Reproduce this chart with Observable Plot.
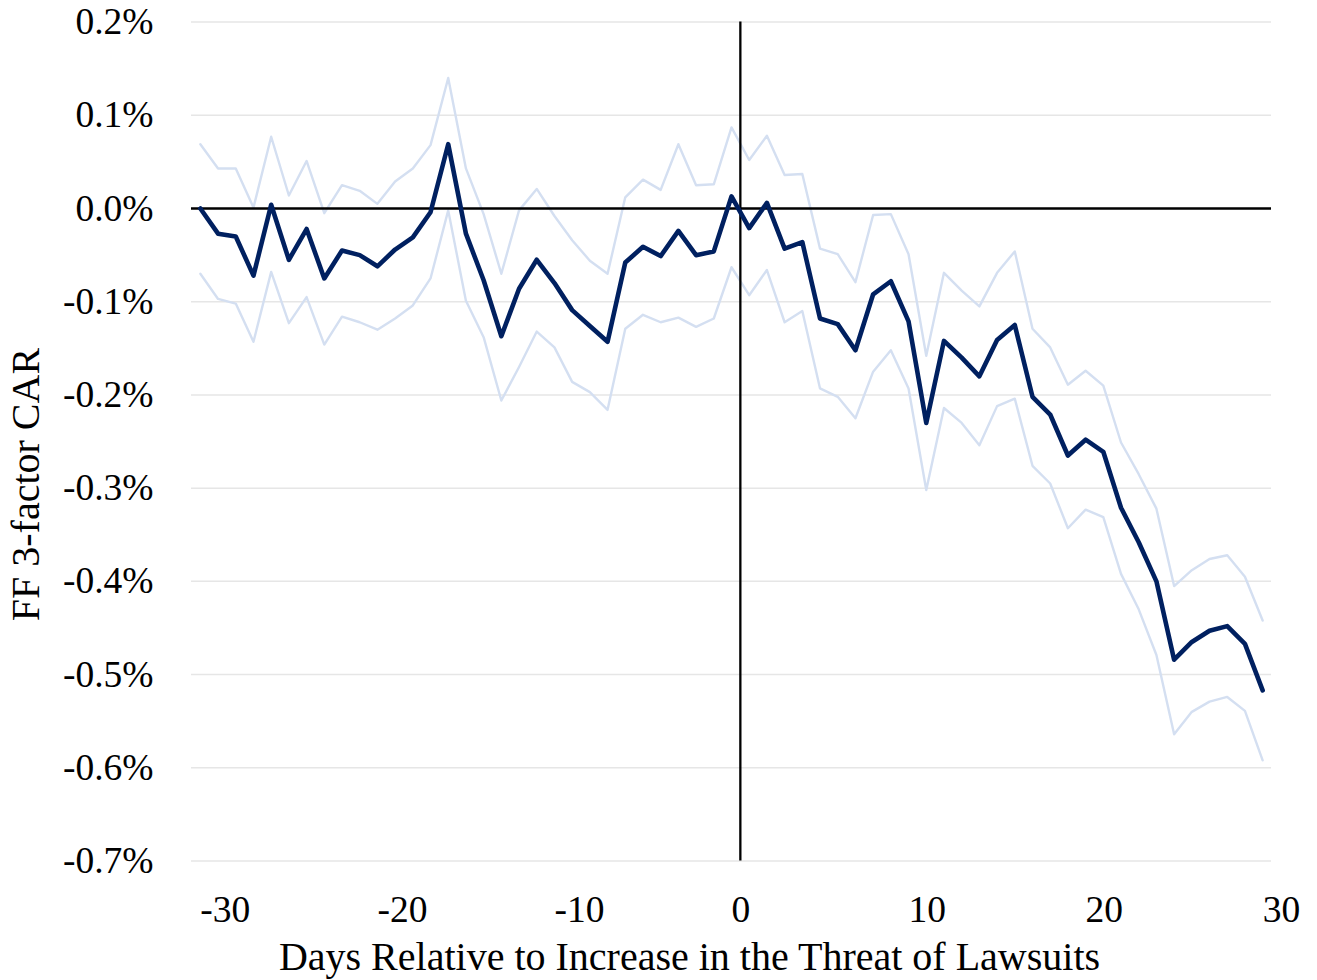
<!DOCTYPE html>
<html><head><meta charset="utf-8">
<script src="https://cdn.jsdelivr.net/npm/d3@7"></script>
<script src="https://cdn.jsdelivr.net/npm/@observablehq/plot@0.6"></script>
<style>html,body{margin:0;padding:0;background:#fff;} #chart svg{display:block}</style>
</head><body><div id="chart"></div>
<script>
const days = [-30,-29,-28,-27,-26,-25,-24,-23,-22,-21,-20,-19,-18,-17,-16,-15,-14,-13,-12,-11,-10,-9,-8,-7,-6,-5,-4,-3,-2,-1,0,1,2,3,4,5,6,7,8,9,10,11,12,13,14,15,16,17,18,19,20,21,22,23,24,25,26,27,28,29,30];
const car = [0.000,-0.027,-0.030,-0.072,0.004,-0.055,-0.022,-0.075,-0.045,-0.050,-0.062,-0.044,-0.031,-0.004,0.069,-0.027,-0.077,-0.137,-0.086,-0.055,-0.080,-0.109,-0.126,-0.143,-0.058,-0.041,-0.051,-0.024,-0.050,-0.046,0.013,-0.021,0.006,-0.043,-0.036,-0.118,-0.124,-0.152,-0.092,-0.078,-0.121,-0.230,-0.142,-0.160,-0.180,-0.141,-0.125,-0.202,-0.221,-0.265,-0.248,-0.261,-0.321,-0.358,-0.400,-0.484,-0.465,-0.453,-0.448,-0.467,-0.517];
const upper = [0.069,0.043,0.043,0.001,0.077,0.014,0.051,-0.005,0.025,0.019,0.005,0.029,0.043,0.068,0.140,0.043,-0.006,-0.070,-0.002,0.021,-0.008,-0.034,-0.056,-0.070,0.012,0.031,0.020,0.069,0.025,0.026,0.087,0.052,0.078,0.036,0.037,-0.043,-0.049,-0.079,-0.007,-0.006,-0.049,-0.158,-0.069,-0.088,-0.105,-0.069,-0.046,-0.129,-0.149,-0.189,-0.174,-0.190,-0.251,-0.285,-0.322,-0.405,-0.388,-0.376,-0.372,-0.395,-0.442];
const lower = [-0.070,-0.097,-0.102,-0.143,-0.068,-0.123,-0.095,-0.146,-0.116,-0.122,-0.130,-0.118,-0.104,-0.075,-0.002,-0.099,-0.138,-0.206,-0.170,-0.132,-0.149,-0.186,-0.197,-0.216,-0.129,-0.114,-0.122,-0.117,-0.127,-0.118,-0.063,-0.093,-0.066,-0.122,-0.110,-0.193,-0.202,-0.225,-0.175,-0.152,-0.193,-0.302,-0.214,-0.230,-0.254,-0.212,-0.204,-0.276,-0.295,-0.343,-0.323,-0.331,-0.392,-0.430,-0.479,-0.564,-0.540,-0.529,-0.524,-0.539,-0.592];
const yTicks = [0.2,0.1,0.0,-0.1,-0.2,-0.3,-0.4,-0.5,-0.6,-0.7];
const xTicks = [-30,-20,-10,0,10,20,30];
const xTitle = "Days Relative to Increase in the Threat of Lawsuits";
const yTitle = "FF 3-factor CAR";
const eventDay = 0.5;

const rows = days.map((d,i)=>({day:d, car:car[i], upper:upper[i], lower:lower[i]}));

const chart = Plot.plot({
  width:1317, height:980,
  marginLeft:191, marginRight:46, marginTop:21.6, marginBottom:119.5,
  style:{fontFamily:'"Liberation Serif","Times New Roman",serif', background:"#fff", overflow:"visible", color:"#000"},
  x:{domain:[-30.5,30.5], axis:null},
  y:{domain:[-0.7,0.2]},
  marks:[
    Plot.ruleY(yTicks, {stroke:"#e6e6e6", strokeWidth:1.5}),
    Plot.line(rows,{x:"day", y:"upper", stroke:"#d4dff1", strokeWidth:2.4}),
    Plot.line(rows,{x:"day", y:"lower", stroke:"#d4dff1", strokeWidth:2.4}),
    Plot.ruleY([0], {stroke:"#000", strokeWidth:2.3}),
    Plot.ruleX([eventDay], {stroke:"#000", strokeWidth:2.3}),
    Plot.line(rows,{x:"day", y:"car", stroke:"#002060", strokeWidth:4.6}),
    Plot.axisY(yTicks, {tickSize:0, tickPadding:38, tickFormat: d=>d.toFixed(1)+"%", fontSize:37.5, label:null}),
    Plot.text(xTicks, {x:d=>d, frameAnchor:"bottom", textAnchor:"start", lineAnchor:"middle", dy:48.5, fontSize:37.5, text:d=>String(d)}),
    Plot.text([xTitle], {frameAnchor:"bottom", textAnchor:"middle", lineAnchor:"middle", dx:-42, dy:96, fontSize:40, text:d=>d}),
    Plot.text([yTitle], {frameAnchor:"left", textAnchor:"middle", lineAnchor:"middle", dx:-165, dy:43, rotate:-90, fontSize:40, text:d=>d})
  ]
});
document.getElementById("chart").appendChild(chart);
</script>
</body></html>
